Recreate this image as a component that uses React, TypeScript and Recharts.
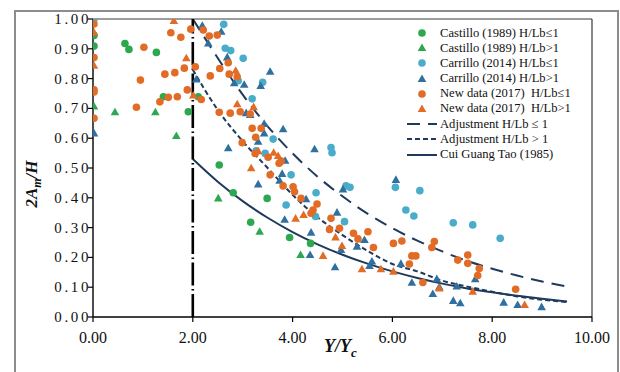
import {
  ComposedChart,
  Scatter,
  Line,
  XAxis,
  YAxis,
  ReferenceLine,
  Legend,
} from 'recharts'

type Pt = [number, number]

const xTicks = [0, 2, 4, 6, 8, 10]
const yTicks = [0, 0.1, 0.2, 0.3, 0.4, 0.5, 0.6, 0.7, 0.8, 0.9, 1]

// Castillo (1989)
const castilloLe1: Pt[] = [
  [0.02, 0.909], [0.02, 0.945], [0.64, 0.918], [0.72, 0.898], [1.27, 0.888],
  [1.41, 0.739], [1.91, 0.689], [2.11, 0.739], [2.53, 0.51], [2.81, 0.417],
  [3.49, 0.398], [3.16, 0.318], [3.94, 0.267], [4.36, 0.247],
]
const castilloGt1: Pt[] = [
  [0.02, 0.706], [0.44, 0.687], [1.25, 0.687], [1.67, 0.607],
  [2.51, 0.398], [3.34, 0.286], [4.16, 0.208],
]

// Carrillo (2014)
const carrilloLe1: Pt[] = [
  [0.02, 1.0], [2.62, 0.982], [2.65, 0.902], [2.76, 0.894], [3.01, 0.868],
  [2.91, 0.793], [3.4, 0.788], [3.19, 0.732], [3.61, 0.597], [3.45, 0.549],
  [3.27, 0.558], [3.97, 0.477], [4.77, 0.569], [4.79, 0.551], [4.47, 0.417],
  [3.87, 0.376], [5.07, 0.44], [5.15, 0.435], [4.46, 0.337], [5.04, 0.32],
  [6.06, 0.435], [6.27, 0.359], [6.43, 0.339], [6.55, 0.424], [7.22, 0.316],
  [7.61, 0.309], [8.16, 0.264],
]
const carrilloGt1: Pt[] = [
  [0.02, 0.616], [2.19, 0.977], [2.31, 0.918], [2.07, 0.797], [2.57, 0.957],
  [2.69, 0.871], [2.83, 0.784], [3.03, 0.779], [3.36, 0.775], [3.55, 0.823],
  [3.07, 0.684], [3.15, 0.678], [3.43, 0.648], [3.81, 0.63], [3.43, 0.616],
  [3.31, 0.588], [2.71, 0.566], [4.44, 0.563], [3.85, 0.524], [3.79, 0.48],
  [3.74, 0.457], [3.31, 0.445], [4.27, 0.395], [5.01, 0.428], [4.89, 0.35],
  [6.07, 0.46], [3.84, 0.326], [4.37, 0.283], [4.35, 0.208], [4.97, 0.225],
  [5.29, 0.236], [5.44, 0.258], [4.85, 0.167], [5.54, 0.171], [5.59, 0.186],
  [6.17, 0.178], [6.39, 0.115], [6.89, 0.127], [6.81, 0.077], [6.94, 0.1],
  [7.29, 0.102], [7.22, 0.054], [7.36, 0.046], [7.66, 0.127], [8.23, 0.048],
  [8.51, 0.04], [8.99, 0.033],
]

// New data (2017)
const newLe1: Pt[] = [
  [0.02, 0.983], [0.02, 0.871], [0.02, 0.762], [0.02, 0.755], [0.02, 0.667],
  [1.02, 0.905], [0.95, 0.795], [0.87, 0.704], [1.56, 0.954], [1.76, 0.939],
  [1.96, 0.966], [1.83, 0.835], [1.64, 0.82], [1.44, 0.815], [1.89, 0.762],
  [1.69, 0.739], [1.51, 0.737], [1.34, 0.722], [2.21, 0.963], [2.33, 0.943],
  [2.49, 0.946], [2.05, 0.84], [2.17, 0.73], [2.35, 0.809], [2.54, 0.834],
  [2.71, 0.853], [2.73, 0.815], [2.89, 0.806], [2.53, 0.687], [2.75, 0.684],
  [2.95, 0.689], [3.15, 0.681], [3.19, 0.633], [3.37, 0.633], [3.26, 0.603],
  [2.99, 0.585], [3.25, 0.549], [3.51, 0.536], [3.73, 0.516], [3.77, 0.523],
  [3.55, 0.477], [3.81, 0.44], [4.01, 0.437], [4.04, 0.42], [4.17, 0.398],
  [4.49, 0.379], [4.41, 0.359], [4.37, 0.348], [4.77, 0.331], [4.74, 0.294],
  [4.94, 0.298], [5.22, 0.281], [5.31, 0.262], [5.51, 0.286], [5.62, 0.233],
  [6.02, 0.247], [6.19, 0.255], [6.34, 0.178], [6.39, 0.205], [6.47, 0.205],
  [6.61, 0.116], [6.79, 0.233], [6.84, 0.253], [7.31, 0.191], [7.51, 0.208],
  [7.51, 0.18], [7.74, 0.163], [7.71, 0.139], [8.47, 0.093],
]
const newGt1: Pt[] = [
  [0.02, 0.954], [0.02, 0.843], [1.62, 0.993], [1.87, 0.868], [2.01, 0.743],
  [2.86, 0.826], [2.89, 0.714], [3.22, 0.704], [3.17, 0.499], [3.31, 0.556],
  [3.62, 0.551], [3.71, 0.54], [4.06, 0.33], [4.22, 0.342], [4.61, 0.205],
  [4.86, 0.267], [4.99, 0.238], [5.39, 0.16], [5.77, 0.16], [6.02, 0.152],
  [6.94, 0.096], [7.61, 0.085], [8.65, 0.04],
]

// fitted curves
const curveX = [2, 2.5, 3, 3.5, 4, 4.5, 5, 5.5, 6, 6.5, 7, 7.5, 8, 8.5, 9, 9.5]
const adjustLe1 = [1.0, 0.869, 0.746, 0.64, 0.549, 0.471, 0.405, 0.347, 0.298, 0.256, 0.22, 0.188, 0.162, 0.139, 0.119, 0.102]
const adjustGt1 = [0.83, 0.695, 0.59, 0.5, 0.41, 0.335, 0.275, 0.222, 0.178, 0.153, 0.122, 0.102, 0.085, 0.069, 0.058, 0.05]
const cuiGuangTao = [0.53, 0.454, 0.389, 0.333, 0.285, 0.244, 0.209, 0.179, 0.153, 0.131, 0.112, 0.096, 0.083, 0.071, 0.061, 0.052]
const criticalX = 2

const GREEN = '#2ca84f'
const LIGHT_BLUE = '#4aaccb'
const STEEL = '#3070a0'
const ORANGE = '#e26b25'
const NAVY = '#1f3a5c'
const SERIF = '"Liberation Serif", "Times New Roman", serif'

const toRows = (pts: Pt[]) => pts.map(([x, y]) => ({ x, y }))
const curveRows = (ys: number[]) => curveX.map((x, i) => ({ x, y: ys[i] }))

type Kind = 'circle' | 'triangle'

function marker(kind: Kind, color: string) {
  return (p: any) => {
    const { cx, cy } = p
    if (cx == null || cy == null) return <g />
    if (kind === 'circle') return <circle cx={cx} cy={cy} r={3.8} fill={color} />
    return (
      <polygon
        points={`${cx},${cy - 4.6} ${cx - 4.3},${cy + 3} ${cx + 4.3},${cy + 3}`}
        fill={color}
      />
    )
  }
}

const scatterSeries: { name: string; data: Pt[]; kind: Kind; color: string }[] = [
  { name: 'Castillo (1989) H/Lb≤1', data: castilloLe1, kind: 'circle', color: GREEN },
  { name: 'Castillo (1989) H/Lb>1', data: castilloGt1, kind: 'triangle', color: GREEN },
  { name: 'Carrillo (2014) H/Lb≤1', data: carrilloLe1, kind: 'circle', color: LIGHT_BLUE },
  { name: 'Carrillo (2014) H/Lb>1', data: carrilloGt1, kind: 'triangle', color: STEEL },
  { name: 'New data (2017)  H/Lb≤1', data: newLe1, kind: 'circle', color: ORANGE },
  { name: 'New data (2017)  H/Lb>1', data: newGt1, kind: 'triangle', color: ORANGE },
]

const lineSeries = [
  { name: 'Adjustment H/Lb ≤ 1', data: adjustLe1, dash: '13 8' },
  { name: 'Adjustment H/Lb > 1', data: adjustGt1, dash: '5 3' },
  { name: 'Cui Guang Tao (1985)', data: cuiGuangTao, dash: undefined },
]

function XTick({ x, y, payload }: any) {
  return (
    <text x={x} y={y} dy={21} textAnchor="middle" fontFamily={SERIF} fontSize={16} fill="#111">
      {Number(payload.value).toFixed(2)}
    </text>
  )
}

function YTick({ x, y, payload }: any) {
  return (
    <text x={x + 3} y={y} dy={5} textAnchor="end" fontFamily={SERIF} fontSize={15} letterSpacing={2.6} fill="#111">
      {Number(payload.value).toFixed(2)}
    </text>
  )
}

function LegendBox() {
  const row = { display: 'flex', alignItems: 'center', height: 15.2 }
  return (
    <div style={{ fontFamily: SERIF, fontSize: 12.6, color: '#111', lineHeight: '15.2px' }}>
      {scatterSeries.map(s => (
        <div key={s.name} style={row}>
          <svg width={34} height={12} style={{ marginRight: 1 }}>
            {marker(s.kind, s.color)({ cx: 17, cy: 6 })}
          </svg>
          <span style={{ whiteSpace: 'pre' }}>{s.name}</span>
        </div>
      ))}
      {lineSeries.map(s => (
        <div key={s.name} style={row}>
          <svg width={34} height={12} style={{ marginRight: 1 }}>
            <line x1={2} x2={32} y1={6} y2={6} stroke={NAVY} strokeWidth={2} strokeDasharray={s.dash} />
          </svg>
          <span>{s.name}</span>
        </div>
      ))}
    </div>
  )
}

export default function App() {
  return (
    <div style={{ position: 'absolute', left: 0, top: 0, width: 620, height: 372, background: '#fff', overflow: 'hidden' }}>
      <div
        style={{
          position: 'absolute', left: 14, top: 10, width: 605, height: 380,
          border: '2px solid #8c8c8c', boxSizing: 'border-box',
        }}
      />
      <ComposedChart
        width={620}
        height={372}
        margin={{ top: 19, right: 28, left: 0, bottom: 0 }}
      >
        <XAxis
          type="number"
          dataKey="x"
          domain={[0, 10]}
          ticks={xTicks}
          height={55}
          tickSize={5}
          tickMargin={0}
          axisLine={{ stroke: '#000', strokeWidth: 1.4 }}
          tickLine={{ stroke: '#000', strokeWidth: 1.2 }}
          tick={<XTick />}
          allowDataOverflow
          label={{
            content: () => (
              <text x={324} y={352} fontFamily={SERIF} fontSize={18} fontWeight="bold" fontStyle="italic" fill="#111">
                Y/Y<tspan dy={5} fontSize={13}>c</tspan>
              </text>
            ),
          }}
        />
        <YAxis
          type="number"
          dataKey="y"
          domain={[0, 1]}
          ticks={yTicks}
          width={93}
          tickSize={5}
          tickMargin={0}
          axisLine={{ stroke: '#000', strokeWidth: 1.4 }}
          tickLine={{ stroke: '#000', strokeWidth: 1.2 }}
          tick={<YTick />}
          allowDataOverflow
          label={{
            content: () => (
              <g transform="translate(37,184) rotate(-90)">
                <text textAnchor="middle" fontFamily={SERIF} fontSize={17} fontWeight="bold" fontStyle="italic" fill="#111">
                  2A<tspan dy={4} fontSize={12}>m</tspan><tspan dy={-4}>/H</tspan>
                </text>
              </g>
            ),
          }}
        />
        <ReferenceLine y={1} stroke="#3a3a3a" strokeWidth={1.2} />
        <ReferenceLine x={10} stroke="#3a3a3a" strokeWidth={1.2} />
        {scatterSeries.map(s => (
          <Scatter
            key={s.name}
            name={s.name}
            data={toRows(s.data)}
            shape={marker(s.kind, s.color)}
            isAnimationActive={false}
          />
        ))}
        {lineSeries.map(s => (
          <Line
            key={s.name}
            name={s.name}
            data={curveRows(s.data)}
            dataKey="y"
            type="monotone"
            stroke={NAVY}
            strokeWidth={2}
            strokeDasharray={s.dash}
            dot={false}
            activeDot={false}
            isAnimationActive={false}
          />
        ))}
        <ReferenceLine x={criticalX} stroke="#000" strokeWidth={2.6} strokeDasharray="23 3.5 1.5 3.5" />
        <Legend
          layout="vertical"
          align="center"
          verticalAlign="middle"
          content={<LegendBox />}
          wrapperStyle={{ left: 405, top: 25.5, width: 210 }}
        />
      </ComposedChart>
    </div>
  )
}
